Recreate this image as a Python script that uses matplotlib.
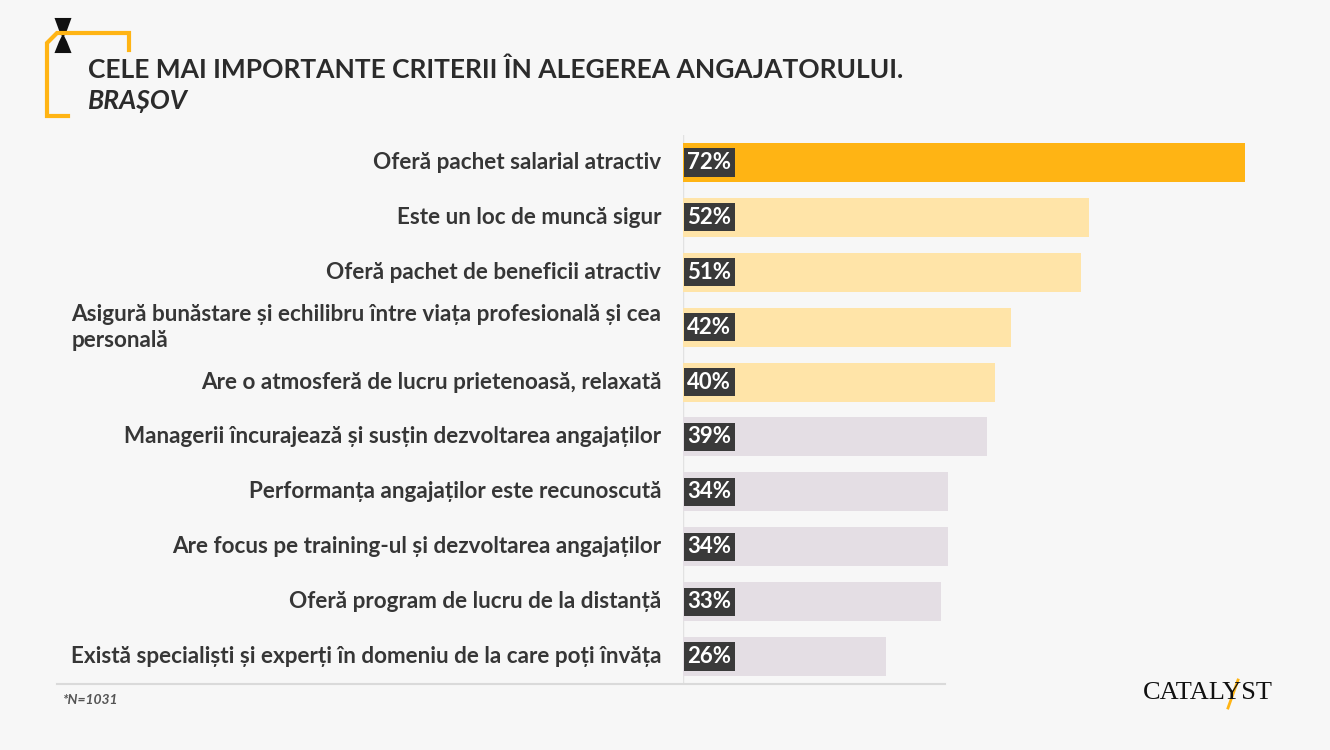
import matplotlib.pyplot as plt
from matplotlib.patches import Polygon

# date
categorii = [
    "Oferă pachet salarial atractiv",
    "Este un loc de muncă sigur",
    "Oferă pachet de beneficii atractiv",
    "Asigură bunăstare și echilibru între viața profesională și cea\npersonală",
    "Are o atmosferă de lucru prietenoasă, relaxată",
    "Managerii încurajează și susțin dezvoltarea angajaților",
    "Performanța angajaților este recunoscută",
    "Are focus pe training-ul și dezvoltarea angajaților",
    "Oferă program de lucru de la distanță",
    "Există specialiști și experți în domeniu de la care poți învăța",
]
procente = [72, 52, 51, 42, 40, 39, 34, 34, 33, 26]
culori = ["#FFB414"] + ["#FFE4A8"] * 4 + ["#E4DEE4"] * 5

BG = "#F7F7F7"
plt.rcParams['font.family'] = ['Lato', 'DejaVu Sans']

fig = plt.figure(figsize=(13.3, 7.5), dpi=100, facecolor=BG)
W, H = 1330, 750

# axa barelor: 0 la x=683px, 72 la x=1245px
ax = fig.add_axes([683 / W, (H - 684) / H, (1245 - 683) / W, (684 - 135) / H])
ax.set_facecolor(BG)
y = list(range(len(procente)))
ax.barh(y, procente, height=0.71, color=culori)
ax.set_xlim(0, 72)
ax.set_ylim(9.5, -0.5)
for s in ax.spines.values():
    s.set_visible(False)
ax.set_xticks([])
ax.set_yticks([])
ax.axvline(0, color="#E2E2E2", lw=1, zorder=0)

for i, (c, p) in enumerate(zip(categorii, procente)):
    if "\n" in c:
        ax.text(-2.8, i, c, ha="right", va="center", fontsize=16.2, color="#363636",
                fontweight="bold", linespacing=1.3, multialignment="left")
    else:
        ax.text(-2.8, i, c, ha="right", va="center", fontsize=16.2, color="#363636",
                fontweight="bold")
    ax.text(0.55, i, f"{p}%", ha="left", va="center", fontsize=16, color="white",
            fontweight="bold",
            bbox=dict(boxstyle="square,pad=0.16", fc="#3A3A3A", ec="none"))

# linia de jos
fig.add_artist(plt.Line2D([57 / W, 945 / W], [1 - 684 / H, 1 - 684 / H], color="#DADADA", lw=1.5))

# titlu
fig.text(88 / W, 1 - 70 / H, "CELE MAI IMPORTANTE CRITERII ÎN ALEGEREA ANGAJATORULUI.",
         fontsize=19, fontweight="bold", color="#2B2B2B", va="center")
fig.text(88 / W, 1 - 101 / H, "BRAȘOV", fontsize=19, fontweight="bold", style="italic",
         color="#2B2B2B", va="center")

# logo paranteză galbenă
gold = "#FFB414"
def px(xx, yy):
    return [v / W for v in xx], [1 - v / H for v in yy]
xs, ys = px([68, 47, 47, 57, 129, 129], [116, 116, 43, 33, 33, 50])
fig.add_artist(plt.Line2D(xs, ys, color=gold, lw=3, solid_joinstyle="miter"))
clepsidra = Polygon([(56 / W, 1 - 19 / H), (70 / W, 1 - 19 / H), (66 / W, 1 - 30 / H),
                     (63 / W, 1 - 36 / H), (66 / W, 1 - 42 / H), (70 / W, 1 - 52 / H),
                     (56 / W, 1 - 52 / H), (60 / W, 1 - 42 / H), (63 / W, 1 - 36 / H),
                     (60 / W, 1 - 30 / H)],
                    closed=True, fc="#111111", ec="#111111", lw=1.5, transform=fig.transFigure)
fig.add_artist(clepsidra)

# nota
fig.text(63 / W, 1 - 700 / H, "*N=1031", fontsize=10, style="italic", fontweight="bold",
         color="#555555", va="center")

# logo CATALYST
fig.text(1208 / W, 1 - 693 / H, "CATALYST", fontsize=19, family="Liberation Serif",
         color="#111111", ha="center", va="center")
fig.add_artist(plt.Line2D([1228 / W, 1238 / W], [1 - 708 / H, 1 - 680 / H], color=gold, lw=2))

fig.savefig("out.png", dpi=100, facecolor=BG)
